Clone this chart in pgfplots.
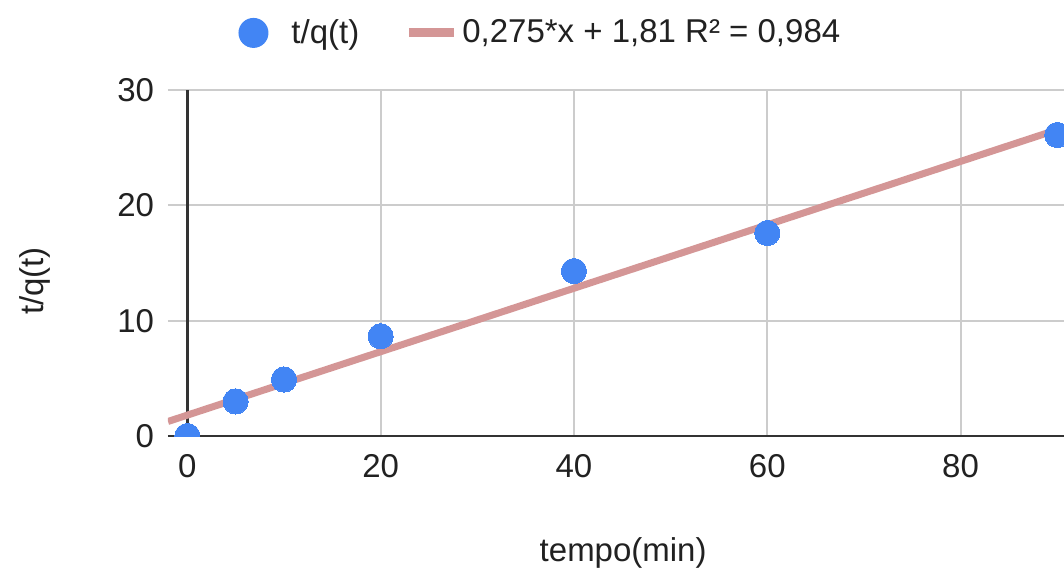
\documentclass[border=0pt]{standalone}
\usepackage{fontspec}
\setmainfont{Liberation Sans}
\usepackage{pgfplots}
\pgfplotsset{compat=1.18}
\definecolor{ptblue}{RGB}{66,133,244}
\definecolor{trend}{RGB}{212,150,150}
\definecolor{gridc}{RGB}{204,204,204}
\definecolor{axc}{RGB}{51,51,51}
\newcommand{\cf}{\fontsize{16.5bp}{19.8bp}\selectfont}
\begin{document}
\begin{tikzpicture}
\useasboundingbox (-84bp,-68bp) rectangle (448bp,218bp);
\begin{axis}[
 at={(0,0)}, anchor=south west,
 scale only axis, width=448bp, height=173bp,
 xmin=-2, xmax=90.7, ymin=0, ymax=30,
 axis line style={draw=none},
 xtick={20,40,60,80}, ytick={10,20,30},
 extra x ticks={0}, extra y ticks={0},
 extra tick style={grid style={draw=axc, line width=1.3bp}},
 grid=major, grid style={draw=gridc, line width=1bp},
 major tick length=0,
 tick label style={font=\cf, text=black!87},
 /pgf/number format/assume math mode=true,
 xticklabel style={yshift=-5.5bp},
 yticklabel style={xshift=-3.5bp},
 clip marker paths=true,
 xlabel={tempo(min)},
 xlabel style={at={(axis description cs:0.508,-0.338)}, anchor=center, font=\cf, text=black!87},
 ylabel={t/q(t)},
 ylabel style={at={(axis description cs:-0.1484,0.448)}, anchor=center, font=\cf, text=black!87},
 legend style={at={(axis description cs:0.4167,1.165)}, anchor=center, draw=none, fill=none, font=\cf,
   /tikz/every even column/.append style={column sep=20.5bp},
   nodes={inner sep=2bp, text=black!87}},
 legend columns=2,
 legend cell align=left,
]
\addlegendimage{legend image code/.code={\fill[ptblue, draw=none] (0,0) circle (7.5bp); \path[draw=none] (-7.5bp,0) -- (17bp,0);}}
\addlegendentry{t/q(t)}
\addlegendimage{legend image code/.code={\path[draw=trend, line width=4.5bp] (0,0) -- (22.5bp,0); \path[draw=none] (0,0) -- (24.5bp,0);}}
\addlegendentry{0,275*x + 1,81 R² = 0,984}
\addplot[trend, line width=3.5bp, forget plot] coordinates {(-2,1.26) (90.7,26.75)};
\addplot[ptblue, only marks, mark=*, mark size=6.3bp, mark options={draw=ptblue, fill=ptblue, line width=0pt}, forget plot] coordinates {
(0,0) (5,3.0) (10,4.9) (20,8.65) (40,14.3) (60,17.6) (90,26.1)};
\end{axis}
\end{tikzpicture}
\end{document}
